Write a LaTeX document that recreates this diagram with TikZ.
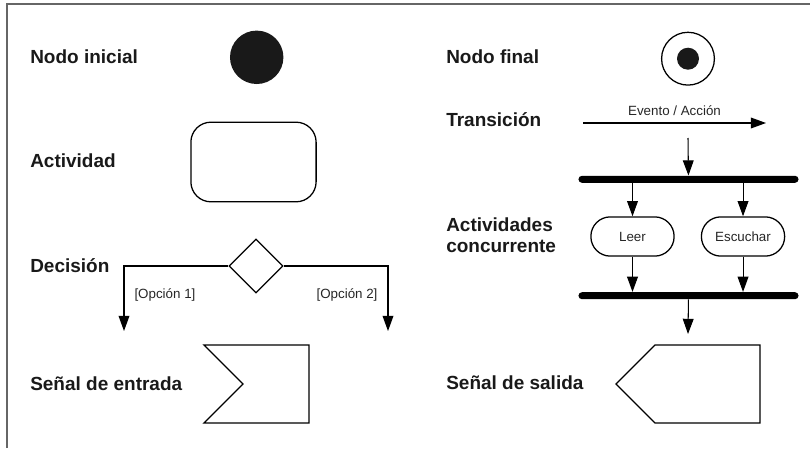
\documentclass[tikz,border=0pt]{standalone}
\usepackage{fontspec}
\setmainfont{Liberation Sans}
\usetikzlibrary{shapes.geometric, arrows.meta, positioning, calc}

\begin{document}
\begin{tikzpicture}[x=0.025cm, y=-0.025cm,
    lbl/.style={anchor=west, inner sep=0pt, text=black!90, align=left, font=\fontsize{13.5}{15}\selectfont\bfseries},
    small/.style={inner sep=0pt, text=black!85, font=\fontsize{9.5}{11}\selectfont},
    shp/.style={draw, line width=0.9pt},
    activity/.style={shp, rectangle, rounded corners=0.5cm, minimum width=3.13cm, minimum height=1.99cm},
    decision/.style={shp, diamond, minimum width=1.35cm, minimum height=1.35cm, inner sep=0pt},
    pill/.style={shp, rectangle, rounded corners=0.485cm, minimum width=2.08cm, minimum height=0.98cm, small},
    bar/.style={rectangle, fill=black, minimum width=5.5cm, minimum height=0.175cm, rounded corners=0.0875cm, inner sep=0pt},
    line/.style={draw, line width=0.75pt, -{Triangle[length=0.38cm, width=0.27cm]}}
]
    \useasboundingbox (0,0) rectangle (810,448);
    \draw [black!60, line width=1.4pt] (7,448) -- (7,4) -- (810,4);

    % left column
    \node [lbl] (lblinicial) at (30,57) {Nodo inicial};
    \node [lbl] (lblactividad) at (30,161) {Actividad};
    \node [lbl] (lbldecision) at (30,266) {Decisión};
    \node [lbl] (lblentrada) at (30,384) {Señal de entrada};

    \node [circle, fill=black!90, minimum size=1.335cm, inner sep=0pt] (inicial) at (256.7,57.3) {};
    \node [activity] (actividad) at (253.5,162) {};
    \node [decision] (dec) at (256,266) {};
    \coordinate (op1) at (124,331);
    \coordinate (op2) at (388,331);
    \draw [shp, line join=miter] (204,345) -- (309,345) -- (309,423) -- (204,423) -- (243,384) -- cycle;

    \path [line] (dec.west) -| node [small, pos=0.72, right=0.25cm] (opcion1) {[Opción 1]} (op1);
    \path [line] (dec.east) -| node [small, pos=0.72, left=0.25cm] (opcion2) {[Opción 2]} (op2);

    % right column
    \node [lbl] (lblfinal) at (446,57) {Nodo final};
    \node [lbl] (lbltransicion) at (446,120) {Transición};
    \node [lbl] (lblconcurrente) at (446,235) {Actividades\\concurrente};
    \node [lbl] (lblsalida) at (446,383) {Señal de salida};

    \node [shp, circle, minimum size=1.32cm, inner sep=0pt] (final) at (688,58.7) {};
    \node [circle, fill=black!90, minimum size=0.55cm, inner sep=0pt] (finalin) at (final) {};

    \coordinate (t1) at (583,123);
    \coordinate (t2) at (766,123);
    \path [line] (t1) -- node [small, above=0.18cm] (evento) {Evento / Acción} (t2);

    \node [bar] (fork) at (688.5,179.3) {};
    \node [pill] (leer) at (632.5,236.5) {Leer};
    \node [pill, right of=leer, node distance=2.7625cm] (escuchar) {Escuchar};
    \node [bar] (join) at (688.5,295.7) {};
    \coordinate (forkin) at (688,138);
    \coordinate (salidatop) at (688,334);
    \draw [shp, line join=miter] (616,384) -- (655,345) -- (760,345) -- (760,423) -- (655,423) -- cycle;

    \path [line] (forkin) -- (fork);
    \path [line] (fork.south -| leer) -- (leer);
    \path [line] (fork.south -| escuchar) -- (escuchar);
    \path [line] (leer) -- (leer |- join.north);
    \path [line] (escuchar) -- (escuchar |- join.north);
    \path [line] (join) -- (salidatop);
\end{tikzpicture}
\end{document}
